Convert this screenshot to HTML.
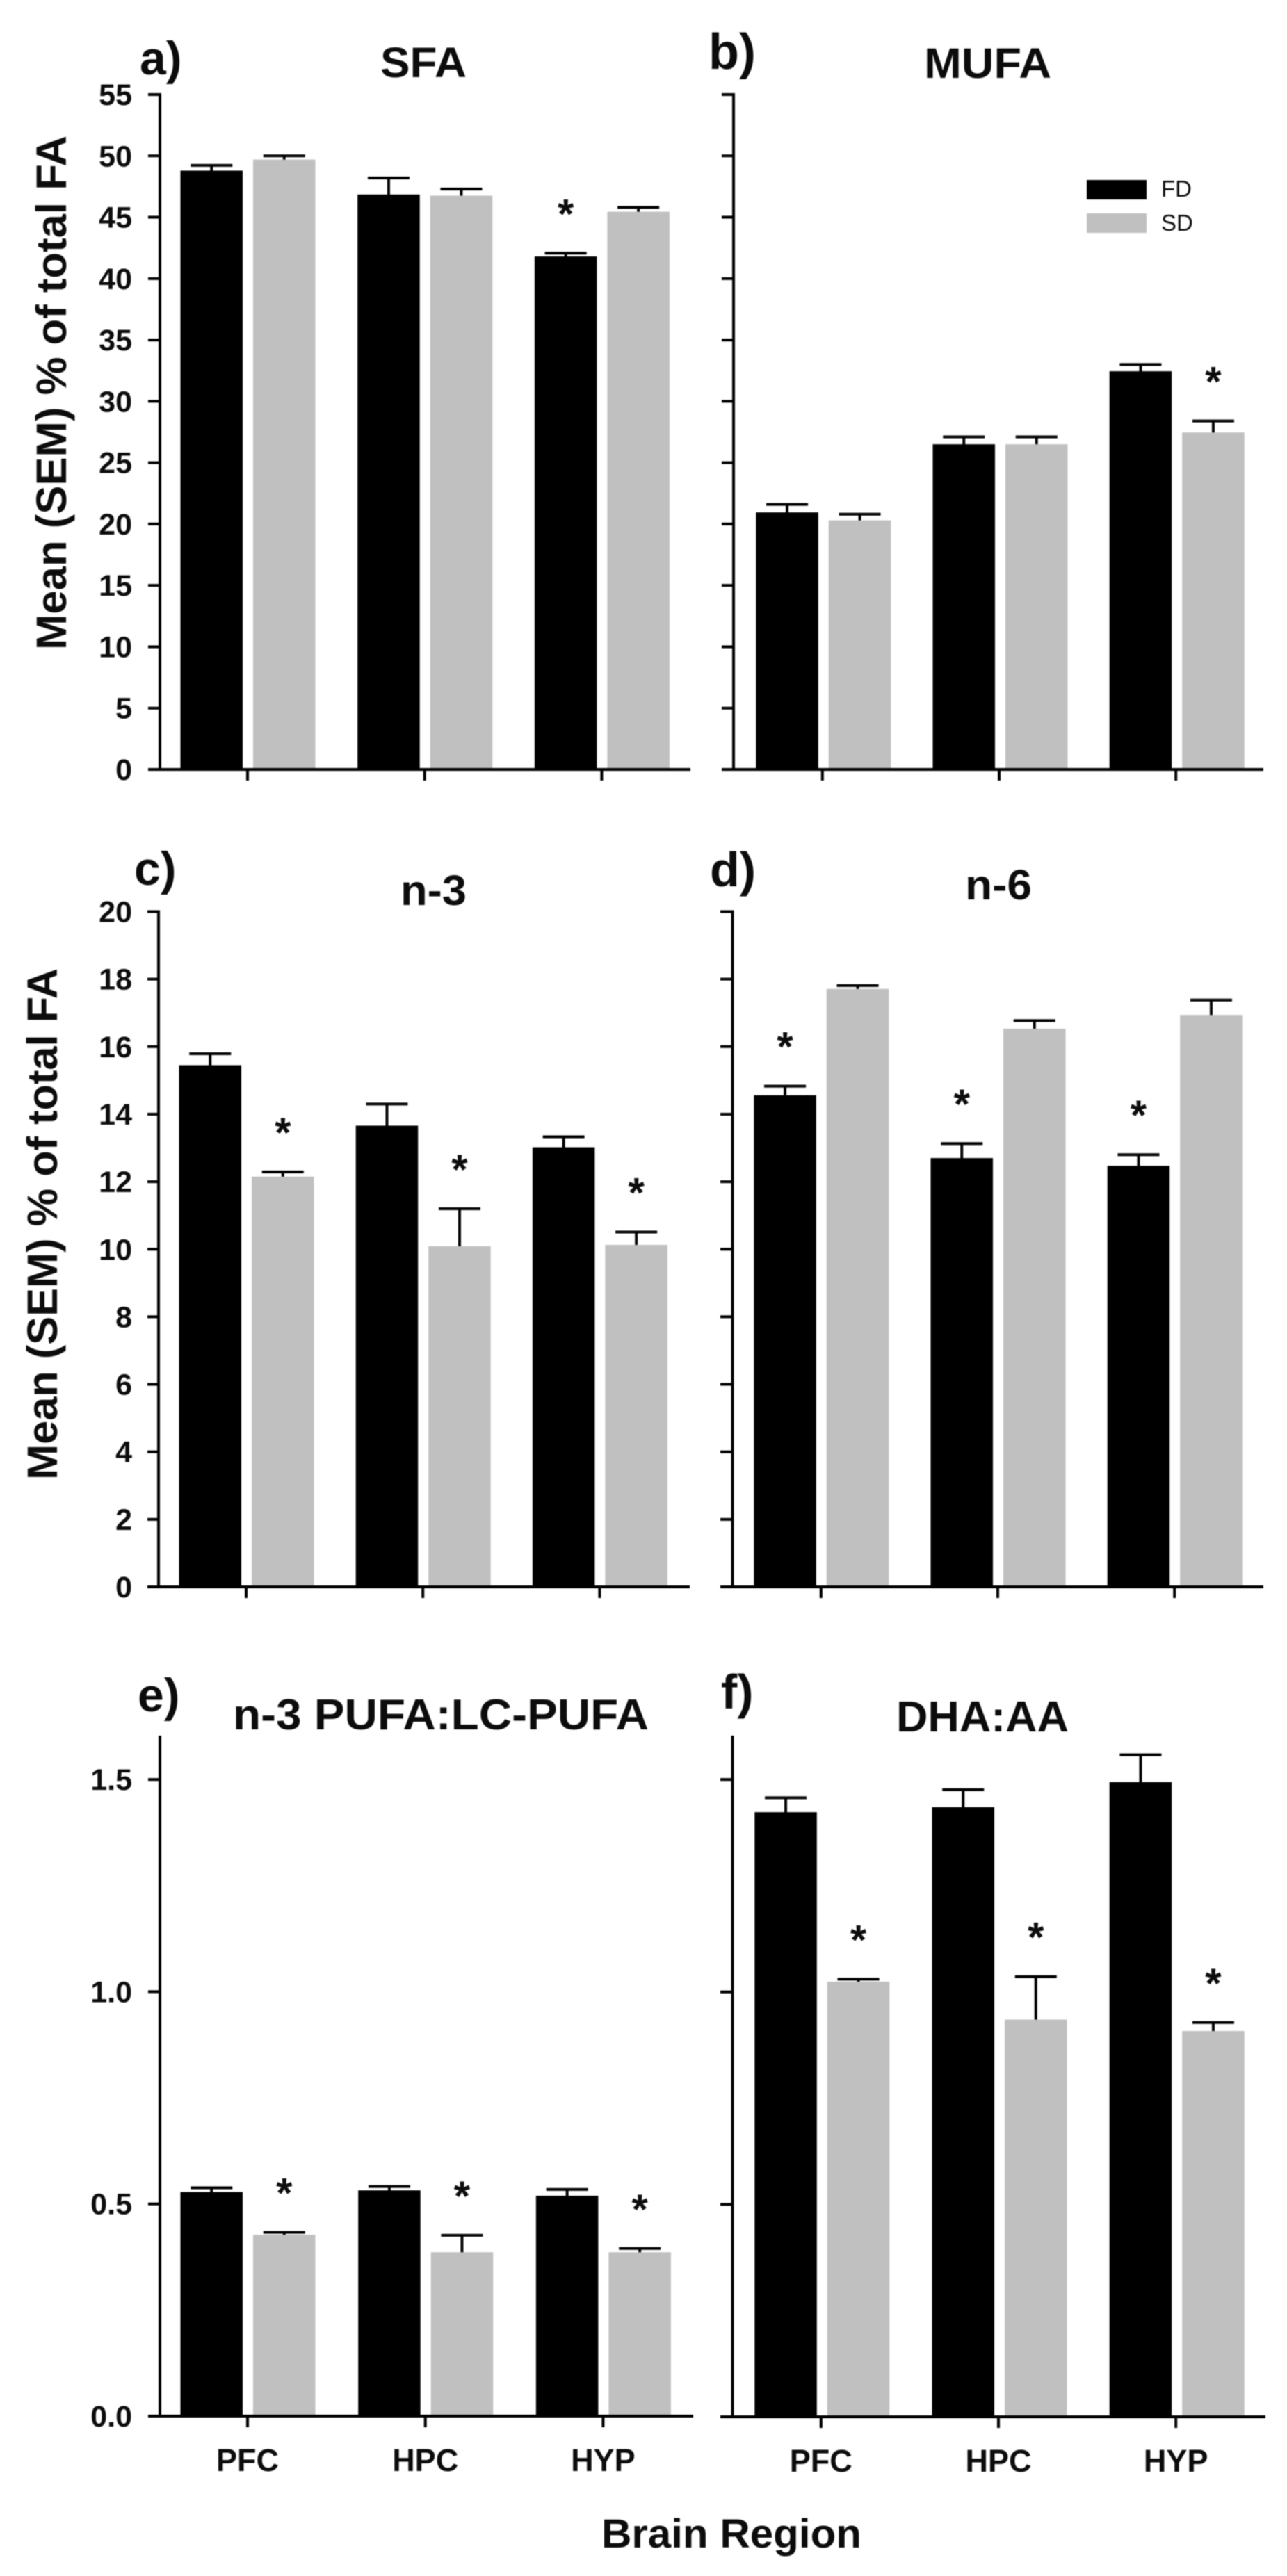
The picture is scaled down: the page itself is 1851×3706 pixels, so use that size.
<!DOCTYPE html>
<html lang="en">
<head>
<meta charset="utf-8">
<title>Brain region fatty acid composition</title>
<style>
  html, body { margin: 0; padding: 0; background: #fff; }
  svg { display: block; filter: blur(0.7px); }
  text { font-family: "Liberation Sans", Arial, sans-serif; fill: #0c0c0c; }
  .b { font-weight: bold; }
</style>
</head>
<body>
<svg id="figure" xmlns="http://www.w3.org/2000/svg" width="1851" height="3706" viewBox="0 0 1851 3706">
  <rect x="0" y="0" width="1851" height="3706" fill="#fff"/>

  <text class="b" x="201" y="107" font-size="68">a)</text>
  <text class="b" x="547" y="111" font-size="61" textLength="124" lengthAdjust="spacingAndGlyphs">SFA</text>
  <text class="b" x="1019" y="99" font-size="72">b)</text>
  <text class="b" x="1329" y="112" font-size="61" textLength="183" lengthAdjust="spacingAndGlyphs">MUFA</text>
  <text class="b" x="193" y="1273" font-size="68">c)</text>
  <text class="b" x="576" y="1302" font-size="61" textLength="95" lengthAdjust="spacingAndGlyphs">n-3</text>
  <text class="b" x="1021" y="1275" font-size="70">d)</text>
  <text class="b" x="1388" y="1294" font-size="61" textLength="96" lengthAdjust="spacingAndGlyphs">n-6</text>
  <text class="b" x="198" y="2462" font-size="68">e)</text>
  <text class="b" x="335" y="2488" font-size="62" textLength="598" lengthAdjust="spacingAndGlyphs">n-3 PUFA:LC-PUFA</text>
  <text class="b" x="1037" y="2458" font-size="70">f)</text>
  <text class="b" x="1289" y="2491" font-size="62" textLength="248" lengthAdjust="spacingAndGlyphs">DHA:AA</text>

  <text class="b" transform="translate(95,935) rotate(-90)" font-size="61" textLength="740" lengthAdjust="spacingAndGlyphs">Mean (SEM) % of total FA</text>
  <text class="b" transform="translate(82,2129) rotate(-90)" font-size="61" textLength="736" lengthAdjust="spacingAndGlyphs">Mean (SEM) % of total FA</text>
  <text class="b" x="865" y="3665" font-size="58" textLength="374" lengthAdjust="spacingAndGlyphs">Brain Region</text>

  <g id="plots"></g>

  <g>
    <rect x="1563" y="259" width="86" height="28" fill="#000"/>
    <text x="1670" y="283" font-size="33" fill="#222">FD</text>
    <rect x="1563" y="307" width="86" height="28" fill="#c0c0c0"/>
    <text x="1670" y="332" font-size="33" fill="#222">SD</text>
  </g>
</svg>

<script>
// Categories
const regions = ['PFC', 'HPC', 'HYP'];

// a) SFA
const sfaFD = [48.8, 46.85, 41.8];
const sfaFDsem = [0.43, 1.35, 0.27];
const sfaSD = [49.7, 46.76, 45.45];
const sfaSDsem = [0.3, 0.54, 0.35];
const sfaFDsig = [false, false, true];
const sfaSDsig = [false, false, false];
const sfaTicks = ['0', '5', '10', '15', '20', '25', '30', '35', '40', '45', '50', '55'];

// b) MUFA
const mufaFD = [20.95, 26.5, 32.45];
const mufaFDsem = [0.65, 0.6, 0.55];
const mufaSD = [20.3, 26.5, 27.46];
const mufaSDsem = [0.5, 0.6, 0.94];
const mufaFDsig = [false, false, false];
const mufaSDsig = [false, false, true];

// c) n-3
const n3FD = [15.45, 13.66, 13.02];
const n3FDsem = [0.34, 0.64, 0.31];
const n3SD = [12.15, 10.09, 10.13];
const n3SDsem = [0.14, 1.11, 0.38];
const n3FDsig = [false, false, false];
const n3SDsig = [true, true, true];
const n3Ticks = ['0', '2', '4', '6', '8', '10', '12', '14', '16', '18', '20'];

// d) n-6
const n6FD = [14.56, 12.7, 12.47];
const n6FDsem = [0.27, 0.43, 0.33];
const n6SD = [17.71, 16.53, 16.94];
const n6SDsem = [0.1, 0.24, 0.44];
const n6FDsig = [true, true, true];
const n6SDsig = [false, false, false];

// e) n-3 PUFA:LC-PUFA
const ratioFD = [0.528, 0.532, 0.519];
const ratioFDsem = [0.01, 0.009, 0.015];
const ratioSD = [0.427, 0.386, 0.386];
const ratioSDsem = [0.006, 0.04, 0.009];
const ratioFDsig = [false, false, false];
const ratioSDsig = [true, true, true];
const ratioTicks = ['0.0', '0.5', '1.0', '1.5'];

// f) DHA:AA
const dhaFD = [1.423, 1.435, 1.494];
const dhaFDsem = [0.034, 0.041, 0.064];
const dhaSD = [1.024, 0.935, 0.908];
const dhaSDsem = [0.006, 0.101, 0.02];
const dhaFDsig = [false, false, false];
const dhaSDsig = [true, true, true];

const NS = 'http://www.w3.org/2000/svg';
const plots = document.getElementById('plots');

function line(parent, x1, y1, x2, y2, w) {
  const el = document.createElementNS(NS, 'line');
  el.setAttribute('x1', x1);
  el.setAttribute('y1', y1);
  el.setAttribute('x2', x2);
  el.setAttribute('y2', y2);
  el.setAttribute('stroke', '#000');
  el.setAttribute('stroke-width', w);
  parent.appendChild(el);
  return el;
}

function label(parent, x, y, size, anchor, str) {
  const el = document.createElementNS(NS, 'text');
  el.setAttribute('class', 'b');
  el.setAttribute('x', x);
  el.setAttribute('y', y);
  el.setAttribute('font-size', size);
  el.setAttribute('text-anchor', anchor);
  el.textContent = str;
  parent.appendChild(el);
  return el;
}

function drawPanel(p) {
  const g = document.createElementNS(NS, 'g');
  
  
  plots.appendChild(g);

  const yScale = v => p.base - (v / p.max) * (p.base - p.top);
  const xScale = i => p.x0 + i * p.step;

  function series(values, sems, sig, left, width, fill, key) {
    values.forEach((v, i) => {
      const cx = xScale(i);
      const bx = cx + left;
      const yTop = yScale(v);
      const yErr = yScale(v + sems[i]);
      const mid = bx + width / 2;

      const stem = line(g, mid, yTop + 3, mid, yErr, 4);
      
      

      const cap = line(g, mid - 30, yErr, mid + 30, yErr, 4);
      
      

      const bar = document.createElementNS(NS, 'rect');
      bar.setAttribute('x', bx);
      bar.setAttribute('y', yTop);
      bar.setAttribute('width', width);
      bar.setAttribute('height', p.base - yTop);
      bar.setAttribute('fill', fill);
      
      
      g.appendChild(bar);

      if (sig[i]) {
        const star = label(g, mid, yErr - 62 + 26, 60, 'middle', '*');
        
        
      }
    });
  }

  series(p.fd, p.fdSem, p.fdSig, p.shift - 96.5, 89.5, '#000', 'fd');
  series(p.sd, p.sdSem, p.sdSig, p.shift + 8, 89.5, '#c0c0c0', 'sd');

  const yAxis = line(g, p.axisX, p.top - 2, p.axisX, p.base + 2, 4);
  
  

  const xAxis = line(g, p.tickStart, p.base, p.xEnd, p.base, 4);
  
  

  p.tickValues.forEach((v, i) => {
    const y = yScale(v);
    const t = line(g, p.tickStart, y, p.axisX, y, 4);
    
    
    if (p.tickLabels) {
      const tl = label(g, 190, y + 15, 43, 'end', p.tickLabels[i]);
      
      
    }
  });

  regions.forEach((r, i) => {
    const cx = xScale(i);
    const t = line(g, cx, p.base, cx, p.base + 16, 4);
    
    
    if (p.showRegions) {
      const tl = label(g, cx, p.base + 79, 45, 'middle', r);
      
      
    }
  });
}

const sfaTickValues = sfaTicks.map(Number);
const n3TickValues = n3Ticks.map(Number);
const ratioTickValues = ratioTicks.map(Number);

drawPanel({ id: 'sfa', axisX: 230, tickStart: 213, xEnd: 993, top: 136, base: 1107, max: 55, x0: 356, step: 254.7, shift: 0,
  fd: sfaFD, fdSem: sfaFDsem, fdSig: sfaFDsig, sd: sfaSD, sdSem: sfaSDsem, sdSig: sfaSDsig,
  tickValues: sfaTickValues, tickLabels: sfaTicks, showRegions: false });
drawPanel({ id: 'mufa', axisX: 1055, tickStart: 1038, xEnd: 1817, top: 136, base: 1107, max: 55, x0: 1182.8, step: 254.2, shift: 1,
  fd: mufaFD, fdSem: mufaFDsem, fdSig: mufaFDsig, sd: mufaSD, sdSem: mufaSDsem, sdSig: mufaSDsig,
  tickValues: sfaTickValues, tickLabels: null, showRegions: false });
drawPanel({ id: 'n3', axisX: 228, tickStart: 212, xEnd: 992, top: 1311.5, base: 2283, max: 20, x0: 354, step: 254.2, shift: 0,
  fd: n3FD, fdSem: n3FDsem, fdSig: n3FDsig, sd: n3SD, sdSem: n3SDsem, sdSig: n3SDsig,
  tickValues: n3TickValues, tickLabels: n3Ticks, showRegions: false });
drawPanel({ id: 'n6', axisX: 1053.5, tickStart: 1036, xEnd: 1817, top: 1311.5, base: 2283, max: 20, x0: 1180.8, step: 254.2, shift: 0,
  fd: n6FD, fdSem: n6FDsem, fdSig: n6FDsig, sd: n6SD, sdSem: n6SDsem, sdSig: n6SDsig,
  tickValues: n3TickValues, tickLabels: null, showRegions: false });
drawPanel({ id: 'n3-pufa-lc-pufa', axisX: 230, tickStart: 213, xEnd: 997, top: 2499, base: 3476, max: 1.6, x0: 356, step: 255.7, shift: 0,
  fd: ratioFD, fdSem: ratioFDsem, fdSig: ratioFDsig, sd: ratioSD, sdSem: ratioSDsem, sdSig: ratioSDsig,
  tickValues: ratioTickValues, tickLabels: ratioTicks, showRegions: true });
drawPanel({ id: 'dha-aa', axisX: 1053.5, tickStart: 1036, xEnd: 1820, top: 2499, base: 3477, max: 1.6, x0: 1180.8, step: 255.2, shift: 1,
  fd: dhaFD, fdSem: dhaFDsem, fdSig: dhaFDsig, sd: dhaSD, sdSem: dhaSDsem, sdSig: dhaSDsig,
  tickValues: ratioTickValues, tickLabels: null, showRegions: true });
</script>
</body>
</html>
